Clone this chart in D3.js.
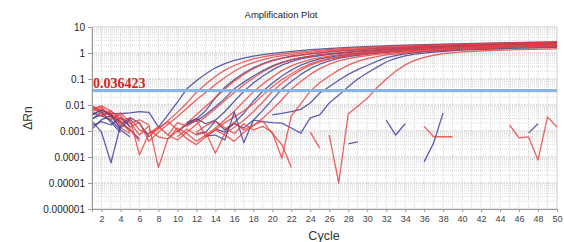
<!DOCTYPE html>
<html><head><meta charset="utf-8">
<script src="https://cdn.jsdelivr.net/npm/d3@7/dist/d3.min.js"></script>
<style>body{margin:0;background:#fff}svg{display:block}</style>
</head><body>
<script>
// ---- data ----
const title = "Amplification Plot";
const xLabel = "Cycle";
const yLabel = "ΔRn";
const cycleDomain = [1, 50];
const xTicks = [2,4,6,8,10,12,14,16,18,20,22,24,26,28,30,32,34,36,38,40,42,44,46,48,50];
const yTicks = [1e-6,1e-5,1e-4,1e-3,1e-2,0.1,1,10];
const yTickLabels = ["0.000001","0.00001","0.0001","0.001","0.01","0.1","1","10"];
const threshold = 0.036423;
const thresholdLabel = "0.036423";

const B1 = [[1,0.003],[2,0.0042],[3,0.0048],[4,0.0046],[5,0.005],[6,0.0056],[7,0.0052],[8,0.0014],[9,0.0042],[10,0.013],[11,0.042],[12,0.085],[13,0.16],[14,0.27],[15,0.39],[16,0.52],[17,0.64],[18,0.76],[19,0.87],[21,1.05],[24,1.35],[28,1.65],[33,1.95],[39,2.25],[45,2.5],[50,2.7]];
const R1 = [[1,0.009],[2,0.0062],[3,0.0045],[4,0.002],[5,0.003],[6,0.0011],[7,0.0008],[8,0.0012],[9,0.0025],[10,0.0052],[11,0.012],[12,0.031],[13,0.064],[14,0.125],[15,0.22],[16,0.33],[17,0.46],[18,0.59],[19,0.71],[20,0.82],[22,1.02],[25,1.3],[29,1.6],[34,1.9],[40,2.2],[45,2.45],[50,2.65]];
const R2 = [[1,0.0065],[2,0.0085],[3,0.0032],[4,0.0041],[5,0.0014],[6,0.0021],[7,0.0004],[8,0.0009],[9,0.0018],[10,0.0035],[11,0.0075],[12,0.016],[13,0.031],[14,0.061],[15,0.115],[16,0.2],[17,0.31],[18,0.43],[19,0.56],[20,0.68],[21,0.78],[23,0.97],[26,1.25],[30,1.55],[35,1.85],[41,2.15],[46,2.4],[50,2.55]];
const B2 = [[1,0.0024],[2,0.0009],[3,0.00006],[4,0.0016],[5,0.0033],[6,0.002],[7,0.0006],[8,null],[10,0.0009],[11,0.0018],[12,0.0029],[13,0.0062],[14,0.019],[15,0.048],[16,0.095],[17,0.17],[18,0.27],[19,0.39],[20,0.52],[21,0.64],[22,0.75],[24,0.93],[27,1.2],[31,1.5],[36,1.8],[42,2.1],[46,2.3],[50,2.5]];
const R3 = [[1,0.004],[2,0.0072],[3,0.0036],[4,0.0013],[5,0.0008],[6,null],[7,0.0011],[8,0.0006],[9,0.0005],[10,0.001],[11,0.002],[12,0.0042],[13,0.009],[14,0.019],[15,0.041],[16,0.083],[17,0.15],[18,0.25],[19,0.37],[20,0.5],[21,0.62],[22,0.73],[24,0.92],[27,1.18],[31,1.47],[36,1.78],[42,2.08],[46,2.28],[50,2.45]];
const B3 = [[1,0.005],[2,0.0038],[3,0.0026],[4,0.0011],[5,0.0006],[6,null],[11,0.0018],[12,0.0024],[13,0.0043],[14,0.0085],[15,0.018],[16,0.042],[17,0.076],[18,0.13],[19,0.21],[20,0.32],[21,0.44],[22,0.56],[23,0.67],[25,0.86],[28,1.1],[32,1.4],[37,1.72],[42,2.0],[46,2.2],[50,2.35]];
const R4 = [[1,0.0095],[2,0.0052],[3,0.0043],[4,0.0026],[5,0.0031],[6,0.00012],[7,0.0008],[8,0.0015],[9,0.0007],[10,0.00045],[11,0.0009],[12,0.0018],[13,0.0036],[14,0.0072],[15,0.015],[16,0.03],[17,0.06],[18,0.11],[19,0.19],[20,0.3],[21,0.42],[22,0.54],[23,0.65],[25,0.84],[28,1.08],[32,1.37],[37,1.68],[42,1.97],[46,2.18],[50,2.32]];
const B4 = [[1,0.0012],[2,0.0027],[3,0.0039],[4,0.0023],[5,0.0011],[6,0.0005],[7,null],[11,0.0021],[12,0.003],[13,0.0019],[14,0.0026],[15,0.0055],[16,0.014],[17,0.034],[18,0.07],[19,0.13],[20,0.22],[21,0.34],[22,0.47],[23,0.59],[24,0.7],[26,0.88],[29,1.12],[33,1.42],[38,1.72],[43,2.0],[47,2.2],[50,2.35]];
const R5 = [[1,0.007],[2,0.0093],[3,0.0058],[4,0.0031],[5,0.0019],[6,0.0027],[7,0.0017],[8,0.00004],[9,0.0005],[10,0.0013],[11,0.0008],[12,0.0004],[13,0.0007],[14,0.0013],[15,0.0027],[16,0.0058],[17,0.014],[18,0.032],[19,0.064],[20,0.12],[21,0.21],[22,0.32],[23,0.44],[24,0.56],[25,0.67],[27,0.86],[30,1.1],[34,1.38],[39,1.68],[44,1.95],[47,2.1],[50,2.25]];
const B5 = [[1,0.0016],[2,0.0023],[3,0.0017],[4,0.0034],[5,0.0015],[6,null],[14,0.0012],[15,0.0009],[16,0.0021],[17,0.0048],[18,0.014],[19,0.034],[20,0.068],[21,0.13],[22,0.22],[23,0.34],[24,0.47],[25,0.59],[26,0.7],[28,0.88],[31,1.12],[35,1.42],[40,1.72],[45,1.98],[50,2.2]];
const R6 = [[1,0.0052],[2,0.0037],[3,0.0061],[4,0.0024],[5,0.0009],[6,null],[7,0.0006],[8,0.0013],[9,0.0023],[10,0.0011],[11,0.0005],[12,0.0003],[13,0.0006],[14,0.0011],[15,0.0021],[16,0.0035],[17,0.006],[18,0.011],[19,0.024],[20,0.05],[21,0.095],[22,0.16],[23,0.26],[24,0.38],[25,0.51],[26,0.62],[28,0.82],[31,1.06],[35,1.36],[40,1.66],[45,1.92],[50,2.15]];
const R7 = [[1,0.0082],[2,0.0048],[3,0.0027],[4,0.0051],[5,0.0022],[6,0.0007],[7,0.0016],[8,null],[10,0.0006],[11,0.0012],[12,0.0007],[13,0.0009],[14,0.00014],[15,0.0008],[16,0.0014],[17,0.0026],[18,0.0055],[19,0.013],[20,0.033],[21,0.068],[22,0.13],[23,0.22],[24,0.34],[25,0.46],[26,0.58],[27,0.68],[29,0.86],[32,1.1],[36,1.38],[41,1.68],[46,1.95],[50,2.1]];
const B6 = [[1,0.0028],[2,0.0055],[3,0.0021],[4,0.0009],[5,null],[12,0.0008],[13,0.0009],[14,0.0024],[15,0.0011],[16,0.0019],[17,0.0013],[18,0.0026],[19,0.0062],[20,0.016],[21,0.04],[22,0.08],[23,0.15],[24,0.25],[25,0.37],[26,0.5],[27,0.62],[28,0.72],[30,0.9],[33,1.12],[37,1.38],[42,1.65],[46,1.85],[50,2.0]];
const R8 = [[1,0.0058],[2,0.0068],[3,0.0049],[4,0.0017],[5,0.0012],[6,0.0004],[7,null],[9,0.0007],[10,0.0021],[11,0.0015],[12,0.0028],[13,0.0006],[14,0.0011],[15,0.0007],[16,0.0004],[17,0.0009],[18,0.0016],[19,0.0031],[20,0.0068],[21,0.016],[22,0.04],[23,0.08],[24,0.15],[25,0.25],[26,0.37],[27,0.5],[28,0.61],[29,0.71],[31,0.88],[34,1.1],[38,1.35],[43,1.6],[47,1.78],[50,1.9]];
const R9 = [[12,0.0009],[13,0.0016],[14,0.0024],[15,0.0013],[16,0.0008],[17,0.0019],[18,0.0011],[19,0.0015],[20,0.0009],[21,0.00009],[22,0.0038],[23,0.011],[24,0.034],[25,0.072],[26,0.13],[27,0.22],[28,0.34],[29,0.48],[30,0.61],[31,0.73],[32,0.84],[34,1.0],[37,1.2],[41,1.42],[45,1.6],[50,1.78]];
const R10 = [[15,0.0012],[16,0.0021],[17,0.0011],[18,0.0017],[19,0.0024],[20,0.0008],[21,0.0003],[22,0.00004],[23,null],[26,0.0007],[27,0.00001],[28,0.0045],[29,0.009],[30,0.018],[31,0.045],[32,0.1],[33,0.2],[34,0.35],[35,0.52],[36,0.68],[37,0.82],[38,0.95],[40,1.1],[43,1.25],[46,1.35],[50,1.45]];
const B7 = [[20,0.0042],[21,0.0048],[22,0.0056],[23,0.0068],[24,0.012],[25,0.029],[26,0.05],[27,0.09],[28,0.15],[29,0.23],[30,0.33],[31,0.48],[32,0.66],[33,0.8],[34,0.93],[36,1.12],[39,1.32],[43,1.52],[47,1.68],[50,1.78]];
const B8 = [[1,0.0042],[2,0.0063],[3,0.0044],[4,0.0013],[5,0.0027],[6,null],[13,0.00065],[14,0.0007],[15,0.00045],[16,0.0054],[17,0.00035],[18,0.0026],[19,0.0023],[20,0.0021],[21,0.002],[22,0.0013],[23,0.00083],[24,0.0032],[25,0.0042],[26,0.012],[27,0.024],[28,0.05],[29,0.1],[30,0.17],[31,0.28],[32,0.45],[33,0.62],[34,0.78],[35,0.9],[37,1.08],[40,1.28],[44,1.46],[47,1.56],[50,1.65]];
const N1 = [[32,0.0026],[33,0.0007],[34,0.0019]];
const N2 = [[36,0.000065],[37,0.00035],[38,0.0049]];
const N3 = [[36,0.0015],[37,0.0006],[38,0.0006],[39,0.0006]];
const N4 = [[45,0.0017],[46,0.00054],[47,0.00059],[48,0.000076],[49,0.0035],[50,0.0014]];
const N5 = [[47,0.00083],[48,0.0019]];
const N6 = [[28,0.00032],[29,0.00038]];
const N7 = [[24,0.0009],[25,0.00022]];

const redSeries = [R1,R2,R3,R4,R5,R6,R7,R8,R9,R10,N3,N4,N7];
const blueSeries = [B1,B2,B3,B4,B5,B6,B7,B8,N1,N2,N5,N6];

// ---- drawing ----
const W = 564, H = 242;
const L = 92, R = 557, T = 27, Bm = 209;
const svg = d3.select("body").append("svg").attr("width", W).attr("height", H);
const x = d3.scaleLinear().domain(cycleDomain).range([L, R]);
const y = d3.scaleLog().domain([1e-6, 10]).range([Bm, T]);

const grid = svg.append("g");
grid.selectAll("line.v").data(d3.range(cycleDomain[0] + 1, cycleDomain[1])).join("line")
  .attr("x1", d => x(d)).attr("x2", d => x(d)).attr("y1", T).attr("y2", Bm)
  .attr("stroke", "#d6d6d6").attr("stroke-width", 1).attr("stroke-dasharray", "1,1");
const minor = [];
for (let e = -6; e < 1; e++) for (let m = 2; m <= 9; m++) minor.push(m * Math.pow(10, e));
grid.selectAll("line.h").data(minor).join("line")
  .attr("x1", L).attr("x2", R).attr("y1", d => y(d)).attr("y2", d => y(d))
  .attr("stroke", "#dadada").attr("stroke-width", 1).attr("stroke-dasharray", "1,1");
grid.selectAll("line.hm").data(yTicks.slice(1, -1)).join("line")
  .attr("x1", L).attr("x2", R).attr("y1", d => y(d)).attr("y2", d => y(d))
  .attr("stroke", "#c4c4c4").attr("stroke-width", 1).attr("stroke-dasharray", "2,1");
svg.append("rect").attr("x", L).attr("y", T).attr("width", R - L).attr("height", Bm - T)
  .attr("fill", "none").attr("stroke", "#cfcfcf");

svg.append("clipPath").attr("id", "clip").append("rect")
  .attr("x", L).attr("y", T).attr("width", R - L).attr("height", Bm - T);

const line = d3.line().defined(d => d[1] != null && d[1] > 0).x(d => x(d[0])).y(d => y(d[1]));
const plot = svg.append("g").attr("clip-path", "url(#clip)");

const all = [];
const n = Math.max(redSeries.length, blueSeries.length);
for (let i = 0; i < n; i++) {
  if (blueSeries[i]) all.push({d: blueSeries[i], c: "#3a3d96"});
  if (redSeries[i]) all.push({d: redSeries[i], c: "#e5403e"});
}
plot.selectAll("path.s").data(all).join("path")
  .attr("d", s => line(s.d)).attr("fill", "none")
  .attr("stroke", s => s.c).attr("stroke-width", 1.3).attr("stroke-opacity", 0.82)
  .attr("stroke-linejoin", "round");

plot.append("line").attr("x1", L).attr("x2", R)
  .attr("y1", y(threshold)).attr("y2", y(threshold))
  .attr("stroke", "#86b6e6").attr("stroke-width", 3);

svg.append("text").attr("x", L + 1).attr("y", y(threshold) - 2)
  .attr("font-family", "Liberation Serif, Times New Roman, serif").attr("font-weight", "bold")
  .attr("font-size", 14).attr("fill", "#d42525").text(thresholdLabel);

const yAxis = svg.append("g").attr("transform", `translate(${L},0)`)
  .call(d3.axisLeft(y).tickValues(yTicks).tickFormat((d, i) => yTickLabels[i]).tickSize(4).tickPadding(3));
yAxis.select(".domain").attr("stroke", "#9a9a9a");
yAxis.selectAll(".tick line").attr("stroke", "#9a9a9a");
yAxis.selectAll("text").attr("font-family", "Liberation Sans, Arial, sans-serif").attr("font-size", 10).attr("fill", "#222");

const xAxis = svg.append("g").attr("transform", `translate(0,${Bm})`)
  .call(d3.axisBottom(x).tickValues(xTicks).tickFormat(d3.format("d")).tickSize(3).tickPadding(4));
xAxis.select(".domain").attr("stroke", "#9a9a9a");
xAxis.selectAll(".tick line").attr("stroke", "#9a9a9a");
xAxis.selectAll("text").attr("font-family", "Liberation Sans, Arial, sans-serif").attr("font-size", 9).attr("fill", "#444");

svg.append("text").attr("x", 281).attr("y", 18).attr("text-anchor", "middle")
  .attr("font-family", "Liberation Sans, Arial, sans-serif").attr("font-size", 9.5).attr("fill", "#222").text(title);
svg.append("text").attr("x", 324).attr("y", 240).attr("text-anchor", "middle")
  .attr("font-family", "Liberation Sans, Arial, sans-serif").attr("font-size", 12.5).attr("fill", "#333").text(xLabel);
svg.append("text").attr("transform", "translate(32,118) rotate(-90)").attr("text-anchor", "middle")
  .attr("font-family", "Liberation Sans, Arial, sans-serif").attr("font-size", 12).attr("fill", "#333").text(yLabel);
</script>
</body></html>
